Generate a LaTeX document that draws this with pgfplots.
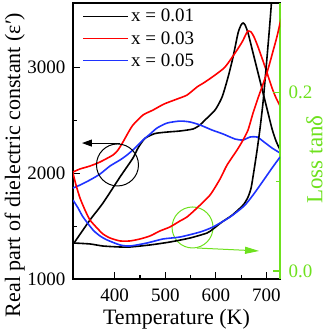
\documentclass[border=0pt]{standalone}
\usepackage{fontspec}
\setmainfont{Liberation Serif}
\usepackage{pgfplots}
\pgfplotsset{compat=1.18}
\usetikzlibrary{arrows.meta}
\definecolor{myblue}{RGB}{30,50,255}
\definecolor{mygreen}{RGB}{110,225,30}

\pgfplotsset{
  base/.style={
    scale only axis, width=207pt, height=276pt,
    xmin=317.5, xmax=727,
    tick align=inside,
    major tick length=7pt, minor tick length=4pt,
    tick label style={font=\fontsize{19}{22}\selectfont},
    /pgf/number format/assume math mode=true,
    /pgf/number format/set thousands separator={},
    every axis plot/.append style={line width=1.6pt, smooth, tension=0.4},
  },
}

\begin{document}
\begin{tikzpicture}
\begin{axis}[base, name=ax,
  ymin=1000, ymax=3609,
  xtick={400,500,600,700}, minor x tick num=1,
  ytick={1000,2000,3000}, minor y tick num=1,
  xtick pos=left, ytick pos=left,
  axis line style={line width=1.2pt},
  every tick/.style={black, line width=1.1pt},
  xticklabel style={yshift=-6pt},
  yticklabel style={xshift=-4pt},
  xlabel={Temperature (K)},
  ylabel={Real part of dielectric constant (ε′)},
  label style={font=\fontsize{22}{24}\selectfont},
  xlabel style={at={(axis description cs:0.5,0)}, anchor=base, yshift=-45pt},
  ylabel style={at={(axis description cs:-0.256,0.413)}, anchor=base},
  legend style={draw=none, fill=none, at={(0.045,0.985)}, anchor=north west,
    font=\fontsize{19}{22}\selectfont, row sep=4pt, inner sep=0pt},
  legend cell align=left,
  legend image code/.code={\draw[#1] (0pt,0pt) -- (45pt,0pt);},
]
% real part of dielectric constant
\addplot[black] coordinates {
  (319.5,1340) (351.1,1558) (376.8,1718) (410.5,1964) (436.2,2144) (446.1,2238)
  (460.0,2330) (479.8,2375) (503.5,2389) (529.2,2399) (554.9,2418) (568.8,2456)
  (578.7,2503) (598.5,2597) (612.4,2720) (624.3,2909) (634.1,3098) (644.0,3325)
  (650.0,3401) (654.0,3420) (657.9,3401) (663.8,3325) (673.7,3136) (683.6,2947)
  (693.5,2758) (703.4,2569) (711.3,2418) (719.2,2304) (727.2,2219)
};
\addplot[red] coordinates {
  (317.5,2011) (331.3,2040) (351.1,2068) (370.9,2106) (396.6,2172) (406.5,2219)
  (416.4,2295) (426.3,2380) (436.2,2456) (456.0,2550) (475.8,2597) (497.6,2654)
  (523.3,2701) (543.1,2739) (562.9,2815) (578.7,2862) (598.5,2928) (618.3,3004)
  (638.1,3136) (652.0,3240) (659.9,3316) (663.8,3344) (669.8,3335) (675.7,3287)
  (683.6,3193) (697.5,3004) (711.3,2805) (719.2,2711) (727.2,2635)
};
\addplot[myblue] coordinates {
  (317.5,1860) (331.3,1888) (351.1,1936) (370.9,1992) (390.7,2068) (410.5,2125)
  (424.4,2172) (440.2,2238) (456.0,2314) (469.9,2370) (483.7,2427) (503.5,2474)
  (529.2,2493) (549.0,2484) (568.8,2456) (592.6,2408) (614.3,2371) (638.1,2323)
  (653.9,2314) (667.8,2342) (681.7,2342) (695.5,2295) (711.3,2238) (727.2,2191)
};
\legend{x = 0.01, x = 0.03, x = 0.05}
% markers
\draw[black, line width=1pt] (axis cs:405.5,2078) circle[radius=21pt];
\draw[black, line width=1pt, -{Triangle[length=10pt,width=7pt]}]
  (axis cs:410.5,2285) -- (axis cs:335.3,2285);
\draw[mygreen, line width=1pt] (axis cs:554.0,1487) circle[radius=20.5pt];
\draw[mygreen, line width=1pt, -{Triangle[length=14pt,width=7pt]}]
  (axis cs:562.9,1293) -- (axis cs:685.6,1265);
\end{axis}

\begin{axis}[base,
  ymin=-0.009, ymax=0.3006,
  axis y line*=right, axis x line=none,
  ytick={0,0.2}, minor y tick num=1,
  y axis line style={mygreen, line width=1.6pt},
  every tick/.style={mygreen, line width=1.1pt},
  yticklabel style={mygreen, xshift=5pt,
    /pgf/number format/.cd, fixed, fixed zerofill, precision=1},
  ylabel={Loss tanδ},
  ylabel style={mygreen, font=\fontsize{23}{24}\selectfont,
    at={(axis description cs:1.205,0.433)}, anchor=base},
]
% loss tangent
\addplot[black] coordinates {
  (317.5,0.0314) (351.1,0.0303) (376.8,0.0280) (410.5,0.0269) (430.3,0.0269)
  (469.9,0.0292) (509.4,0.0325) (549.0,0.0370) (582.7,0.0426) (594.6,0.0471)
  (612.4,0.0550) (630.2,0.0617) (644.0,0.0684) (655.9,0.0752) (663.8,0.0830)
  (669.8,0.0931) (675.7,0.1133) (681.7,0.1357) (687.6,0.1604) (693.5,0.1896)
  (699.5,0.2277) (705.4,0.2670) (709.3,0.2950) (711.3,0.3130)
};
\addplot[red] coordinates {
  (317.5,0.1099) (323.4,0.0965) (331.3,0.0819) (341.2,0.0684) (351.1,0.0572)
  (365.0,0.0482) (376.8,0.0415) (390.7,0.0370) (410.5,0.0337) (430.3,0.0337)
  (450.1,0.0359) (469.9,0.0393) (489.6,0.0449) (509.4,0.0494) (529.2,0.0561)
  (543.1,0.0606) (562.9,0.0707) (588.6,0.0852) (608.4,0.1032) (622.3,0.1189)
  (642.1,0.1357) (653.9,0.1469) (663.8,0.1582) (673.7,0.1772) (683.6,0.1941)
  (693.5,0.2098) (703.4,0.2266) (713.3,0.2468) (721.3,0.2636) (731.2,0.2883)
};
\addplot[myblue] coordinates {
  (317.5,0.0796) (327.4,0.0707) (337.3,0.0606) (357.1,0.0460) (370.9,0.0393)
  (384.8,0.0348) (410.5,0.0292) (430.3,0.0280) (464.0,0.0314) (495.6,0.0359)
  (529.2,0.0381) (568.8,0.0437) (594.6,0.0494) (628.3,0.0606) (655.9,0.0729)
  (673.7,0.0852) (693.5,0.1010) (711.3,0.1155) (727.2,0.1279)
};
\end{axis}
\pgfresetboundingbox
\path ([shift={(-73pt,-52pt)}]ax.south west) rectangle ([shift={(48pt,3pt)}]ax.north east);
\end{tikzpicture}
\end{document}
